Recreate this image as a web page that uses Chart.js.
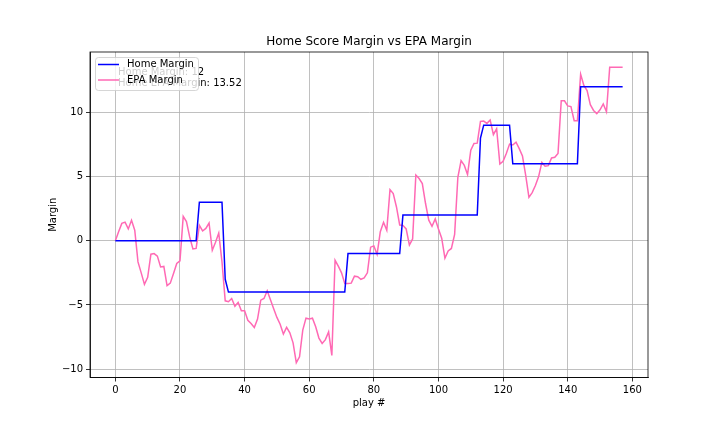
<!DOCTYPE html>
<html>
<head>
<meta charset="utf-8">
<script src="https://cdn.jsdelivr.net/npm/chart.js@4/dist/chart.umd.min.js"></script>
<style>
  html, body { margin: 0; padding: 0; background: #fff; }
  canvas { display: block; }
</style>
</head>
<body>
<canvas id="marginChart" width="720" height="432"></canvas>
<script>
// play numbers 0..157
const plays = Array.from({ length: 158 }, (_, i) => i);

const homeMargin = [
    0, 0, 0, 0, 0, 0, 0, 0, 0, 0, 0, 0, 0, 0, 0, 0, 0, 0, 0, 0,
    0, 0, 0, 0, 0, 0, 3, 3, 3, 3, 3, 3, 3, 3, -3, -4, -4, -4, -4, -4,
    -4, -4, -4, -4, -4, -4, -4, -4, -4, -4, -4, -4, -4, -4, -4, -4, -4, -4, -4, -4,
    -4, -4, -4, -4, -4, -4, -4, -4, -4, -4, -4, -4, -1, -1, -1, -1, -1, -1, -1, -1,
    -1, -1, -1, -1, -1, -1, -1, -1, -1, 2, 2, 2, 2, 2, 2, 2, 2, 2, 2, 2,
    2, 2, 2, 2, 2, 2, 2, 2, 2, 2, 2, 2, 2, 8, 9, 9, 9, 9, 9, 9,
    9, 9, 9, 6, 6, 6, 6, 6, 6, 6, 6, 6, 6, 6, 6, 6, 6, 6, 6, 6,
    6, 6, 6, 6, 12, 12, 12, 12, 12, 12, 12, 12, 12, 12, 12, 12, 12, 12
];

const epaMargin = [
    0, 0.7, 1.35, 1.45, 0.92, 1.6, 0.82, -1.65, -2.5, -3.4,
    -2.85, -1.05, -1.0, -1.2, -2.04, -2.0, -3.5, -3.3, -2.55, -1.77,
    -1.57, 1.9, 1.49, 0.3, -0.64, -0.6, 1.2, 0.76, 0.96, 1.38,
    -0.74, -0.12, 0.6, -1.65, -4.68, -4.75, -4.5, -5.1, -4.8, -5.45,
    -5.45, -6.2, -6.45, -6.75, -6.1, -4.63, -4.5, -3.9, -4.6, -5.3,
    -5.97, -6.5, -7.27, -6.75, -7.17, -7.95, -9.5, -9.04, -6.96, -6.03,
    -6.1, -6.03, -6.7, -7.58, -8.0, -7.7, -7.1, -8.93, -1.52, -1.98,
    -2.5, -3.33, -3.33, -3.3, -2.76, -2.8, -3.0, -2.9, -2.5, -0.5,
    -0.4, -1.05, 0.71, 1.44, 0.82, 3.98, 3.67, 2.63, 1.23, 1.2,
    0.92, -0.33, 0.14, 5.12, 4.85, 4.45, 2.9, 1.6, 1.13, 1.7,
    0.92, 0.2, -1.36, -0.8, -0.6, 0.5, 4.94, 6.24, 5.87, 5.15,
    7.06, 7.58, 7.6, 9.3, 9.32, 9.14, 9.4, 8.26, 8.72, 5.97,
    6.18, 6.8, 7.53, 7.46, 7.68, 7.17, 6.6, 5.09, 3.38, 3.75,
    4.3, 5.0, 6.1, 5.8, 5.85, 6.45, 6.5, 6.8, 10.9, 10.9,
    10.5, 10.45, 9.35, 9.35, 12.97, 12.1, 11.7, 10.6, 10.15, 9.9,
    10.2, 10.65, 10.05, 13.52, 13.52, 13.52, 13.52, 13.52
];

const xTicks = [0, 20, 40, 60, 80, 100, 120, 140, 160];
const yTicks = [-10, -5, 0, 5, 10];

const seriesNames = ['Home Margin', 'EPA Margin'];
const seriesColors = ['#0000ff', '#ff69b4'];

const FONT = '"DejaVu Sans", sans-serif';

// spines, annotations, legend, title and axis labels like matplotlib
const overlayPlugin = {
    id: 'overlay',
    afterDatasetsDraw(chart) {
        const { ctx, chartArea: a } = chart;
        ctx.save();

        ctx.strokeStyle = '#000';
        ctx.lineWidth = 0.8;
        ctx.strokeRect(a.left, a.top, a.right - a.left, a.bottom - a.top);

        // text annotations (drawn under the legend)
        ctx.font = '10px ' + FONT;
        ctx.fillStyle = '#000';
        ctx.textAlign = 'left';
        ctx.textBaseline = 'middle';
        ctx.fillText('Home Margin: ' + homeMargin[homeMargin.length - 1], a.left + 28, a.top + 20);
        ctx.fillText('Home EPA Margin: ' + epaMargin[epaMargin.length - 1], a.left + 28, a.top + 31.5);

        // legend box
        const bx = a.left + 5.5, by = a.top + 5.5, bw = 103, bh = 33, r = 3;
        ctx.beginPath();
        ctx.moveTo(bx + r, by);
        ctx.arcTo(bx + bw, by, bx + bw, by + bh, r);
        ctx.arcTo(bx + bw, by + bh, bx, by + bh, r);
        ctx.arcTo(bx, by + bh, bx, by, r);
        ctx.arcTo(bx, by, bx + bw, by, r);
        ctx.closePath();
        ctx.fillStyle = 'rgba(255,255,255,0.8)';
        ctx.fill();
        ctx.strokeStyle = 'rgba(204,204,204,0.8)';
        ctx.lineWidth = 1;
        ctx.stroke();

        seriesNames.forEach((name, i) => {
            const ly = a.top + 12.5 + i * 15.5;
            ctx.strokeStyle = seriesColors[i];
            ctx.lineWidth = 1.5;
            ctx.beginPath();
            ctx.moveTo(a.left + 8, ly);
            ctx.lineTo(a.left + 29, ly);
            ctx.stroke();
            ctx.fillStyle = '#000';
            ctx.font = '10px ' + FONT;
            ctx.textAlign = 'left';
            ctx.textBaseline = 'middle';
            ctx.fillText(name, a.left + 37, ly);
        });

        // title
        const cx = (a.left + a.right) / 2;
        ctx.fillStyle = '#000';
        ctx.font = '12px ' + FONT;
        ctx.textAlign = 'center';
        ctx.textBaseline = 'middle';
        ctx.fillText('Home Score Margin vs EPA Margin', cx, a.top - 10);

        // axis labels
        ctx.font = '10px ' + FONT;
        ctx.fillText('play #', cx, a.bottom + 26);
        ctx.translate(a.left - 37, (a.top + a.bottom) / 2);
        ctx.rotate(-Math.PI / 2);
        ctx.fillText('Margin', 0, 0);

        ctx.restore();
    }
};

function tickText(v) {
    return String(v).replace('-', '\u2212');
}

const axisCommon = {
    type: 'linear',
    grid: { color: '#b0b0b0', lineWidth: 0.8, tickLength: 4, tickColor: '#000', tickWidth: 0.8 },
    border: { display: true, color: '#000', width: 0.8 },
    ticks: { color: '#000', font: { size: 10, family: FONT }, padding: 3, autoSkip: false, maxRotation: 0, callback: tickText }
};

new Chart(document.getElementById('marginChart'), {
    type: 'line',
    data: {
        labels: plays,
        datasets: [
            { label: seriesNames[0], data: homeMargin, borderColor: seriesColors[0], borderWidth: 1.5, pointRadius: 0, tension: 0, fill: false },
            { label: seriesNames[1], data: epaMargin, borderColor: seriesColors[1], borderWidth: 1.5, pointRadius: 0, tension: 0, fill: false }
        ]
    },
    options: {
        responsive: false,
        animation: false,
        devicePixelRatio: 1,
        layout: { padding: { left: 0, right: 72, top: 52, bottom: 0 } },
        plugins: { legend: { display: false }, title: { display: false }, tooltip: { enabled: false } },
        scales: {
            x: Object.assign({}, axisCommon, {
                min: -7.85, max: 164.85,
                afterBuildTicks: s => { s.ticks = xTicks.map(v => ({ value: v })); },
                afterFit: s => { s.height = 54.5; }
            }),
            y: Object.assign({}, axisCommon, {
                min: -10.65, max: 14.7,
                afterBuildTicks: s => { s.ticks = yTicks.map(v => ({ value: v })); },
                afterFit: s => { s.width = 90; }
            })
        }
    },
    plugins: [overlayPlugin]
});
</script>
</body>
</html>
